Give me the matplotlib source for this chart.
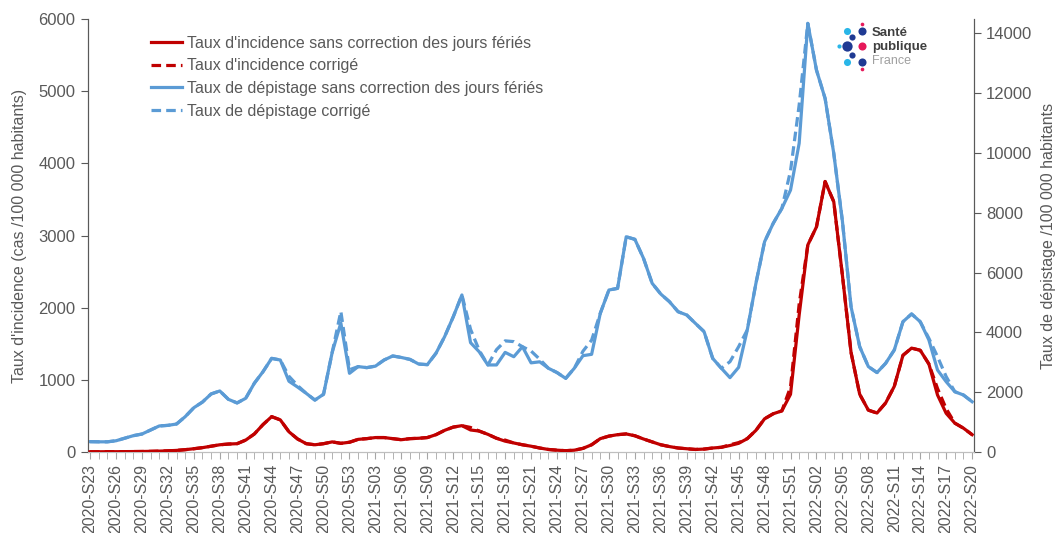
import numpy as np
import matplotlib
matplotlib.use("Agg")
import matplotlib.pyplot as plt

plt.rcParams["font.family"] = ["Liberation Sans", "DejaVu Sans"]

# Semaines : 2020-S23 -> 2022-S20
semaines = ([f"2020-S{w:02d}" for w in range(23, 54)]
            + [f"2021-S{w:02d}" for w in range(1, 53)]
            + [f"2022-S{w:02d}" for w in range(1, 21)])

# Taux d'incidence (cas / 100 000 hab.)
incidence = [3, 3, 4, 4, 5, 6, 7, 9, 12, 16, 22, 32, 45, 60, 80, 100, 110, 115,
             165, 250, 380, 490, 445, 280, 180, 115, 100, 115, 140, 120, 135,
             175, 185, 200, 200, 185, 170, 185, 190, 200, 240, 300, 345, 365,
             305, 290, 245, 190, 150, 125, 100, 80, 55, 35, 25, 18, 25, 50, 100,
             185, 220, 240, 250, 225, 180, 140, 100, 75, 55, 45, 35, 40, 55, 65,
             90, 120, 185, 300, 460, 530, 570, 800, 1900, 2870, 3120, 3750, 3470,
             2450, 1380, 800, 580, 540, 680, 910, 1340, 1440, 1410, 1220, 790,
             536, 400, 330, 240]

incidence_corr = list(incidence)
for i, v in {44: 340, 48: 165, 74: 100, 75: 130, 81: 900, 82: 2050,
             98: 880, 99: 600}.items():
    incidence_corr[i] = v

# Taux de dépistage (tests / 100 000 hab.)
depistage = [345, 340, 340, 375, 460, 545, 600, 735, 870, 890, 935, 1180, 1480,
             1670, 1940, 2040, 1760, 1640, 1795, 2300, 2685, 3130, 3075, 2365,
             2170, 1960, 1735, 1930, 3330, 4315, 2630, 2855, 2820, 2870, 3075,
             3210, 3160, 3095, 2940, 2920, 3300, 3855, 4520, 5250, 3655, 3350,
             2910, 2910, 3330, 3185, 3520, 2980, 3015, 2800, 2655, 2460, 2800,
             3220, 3265, 4635, 5415, 5470, 7195, 7110, 6475, 5640, 5280, 5025,
             4690, 4580, 4300, 4025, 3130, 2800, 2485, 2830, 4080, 5640, 7030,
             7645, 8145, 8755, 10320, 14330, 12770, 11820, 9985, 7720, 4855,
             3520, 2855, 2655, 2965, 3410, 4355, 4615, 4355, 3745, 2740, 2350,
             2015, 1905, 1680]

depistage_corr = list(depistage)
for i, v in {23: 2530, 24: 2220, 29: 4700, 30: 2750, 44: 4100, 45: 3400,
             47: 3420, 48: 3715, 49: 3690, 51: 3375, 52: 3100, 57: 3370,
             58: 3740, 74: 3020, 75: 3520, 81: 9400, 82: 11600, 97: 3800,
             98: 3185, 99: 2520}.items():
    depistage_corr[i] = v

rouge = "#C00000"
bleu = "#5B9BD5"
gris = "#595959"

x = np.arange(len(semaines))

fig = plt.figure(figsize=(10.59, 5.33), dpi=100)
ax = fig.add_axes([0.083, 0.152, 0.837, 0.812])
ax2 = ax.twinx()

l1, = ax.plot(x, incidence, color=rouge, lw=2.3, zorder=4)
l2, = ax.plot(x, incidence_corr, color=rouge, lw=2.3, ls=(0, (3, 1.6)), zorder=3)
l3, = ax2.plot(x, depistage, color=bleu, lw=2.3, zorder=4)
l4, = ax2.plot(x, depistage_corr, color=bleu, lw=2.3, ls=(0, (3, 1.6)), zorder=3)

ax.set_zorder(ax2.get_zorder() + 1)
ax.patch.set_visible(False)

ax.set_xlim(-0.25, 102.25)
ax.set_ylim(0, 6000)
ax2.set_ylim(0, 14470)
ax.set_yticks(range(0, 6001, 1000))
ax2.set_yticks(range(0, 14001, 2000))

ax.set_xticks(x[::3])
ax.set_xticklabels(semaines[::3], rotation=90)
ax.set_xticks(x, minor=True)

for a in (ax, ax2):
    a.spines["top"].set_visible(False)
    a.spines["bottom"].set_color("#BFBFBF")
    a.spines["left"].set_color(gris)
    a.spines["right"].set_color(gris)
    a.tick_params(colors=gris, labelsize=12, length=5)
ax.tick_params(axis="x", which="both", colors="#A6A6A6", labelcolor=gris,
               length=5, labelsize=11.5)
ax.tick_params(axis="y", pad=4)

ax.set_ylabel("Taux d'incidence (cas /100 000 habitants)", color=gris,
              fontsize=11.5, labelpad=8)
ax2.set_ylabel("Taux de dépistage /100 000 habitants", color=gris,
               fontsize=11.5, labelpad=6)

leg = ax.legend([l1, l2, l3, l4],
                ["Taux d'incidence sans correction des jours fériés",
                 "Taux d'incidence corrigé",
                 "Taux de dépistage sans correction des jours fériés",
                 "Taux de dépistage corrigé"],
                loc="upper left", bbox_to_anchor=(0.055, 0.995), frameon=False,
                fontsize=11.5, handlelength=1.95, handletextpad=0.3,
                labelspacing=0.48, labelcolor=gris)

# Logo Santé publique France
lg = fig.add_axes([0, 0, 1, 1])
lg.set_xlim(0, 1059)
lg.set_ylim(533, 0)
lg.axis("off")
points = [(846.7, 30.7, "#29B6E8", 26), (852.3, 37.3, "#1F3A93", 20),
          (862.3, 31, "#1F3A93", 34), (862.3, 23.5, "#E6195A", 7),
          (839, 46, "#29B6E8", 9), (846.7, 46, "#1F3A93", 55),
          (862.3, 46, "#E6195A", 34), (852.3, 55, "#1F3A93", 20),
          (846.7, 61.7, "#29B6E8", 26), (862.3, 61.7, "#1F3A93", 34),
          (862.3, 69, "#E6195A", 7)]
for px, py, c, s in points:
    lg.scatter(px, py, s=s, color=c, zorder=5, linewidths=0)
lg.text(872, 33, "Santé", fontsize=9.5, fontweight="bold", color="#404040", va="center")
lg.text(872, 47, "publique", fontsize=9.5, fontweight="bold", color="#404040", va="center")
lg.text(872, 61, "France", fontsize=9, color="#A0A0A0", va="center")

fig.savefig("out.png", dpi=100)
